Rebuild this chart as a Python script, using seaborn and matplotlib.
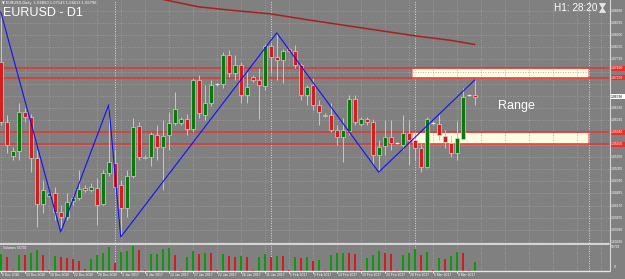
import numpy as np
import matplotlib
matplotlib.use('Agg')
import matplotlib.pyplot as plt
import matplotlib.transforms as mtransforms
from matplotlib.patches import Rectangle, Polygon
import seaborn as sns

# EURUSD daily bars, 8 Dec 2016 .. 13 Mar 2017 (broker keeps the short sunday bars)
opens = [1.0765, 1.0619, 1.0537, 1.0549, 1.0644, 1.0632, 1.0532, 1.0421, 1.0440, 1.0448,
         1.0402, 1.0390, 1.0428, 1.0436, 1.0460, 1.0455, 1.0460, 1.0421, 1.0496, 1.0520,
         1.0467, 1.0411, 1.0489, 1.0610, 1.0533, 1.0535, 1.0588, 1.0559, 1.0588, 1.0617,
         1.0617, 1.0627, 1.0603, 1.0721, 1.0636, 1.0665, 1.0711, 1.0711, 1.0782, 1.0738,
         1.0757, 1.0685, 1.0728, 1.0721, 1.0707, 1.0803, 1.0777, 1.0769, 1.0796, 1.0791,
         1.0757, 1.0685, 1.0709, 1.0661, 1.0634, 1.0636, 1.0600, 1.0583, 1.0598, 1.0675,
         1.0615, 1.0627, 1.0619, 1.0540, 1.0561, 1.0583, 1.0569, 1.0564, 1.0593, 1.0576,
         1.0557, 1.0511, 1.0617, 1.0615, 1.0586, 1.0569, 1.0544, 1.0578, 1.0685, 1.0685]
highs = [1.0886, 1.0636, 1.0559, 1.0665, 1.0653, 1.0639, 1.0552, 1.0479, 1.0450, 1.0462,
         1.0419, 1.0448, 1.0443, 1.0503, 1.0467, 1.0472, 1.0484, 1.0503, 1.0661, 1.0552,
         1.0479, 1.0503, 1.0629, 1.0619, 1.0540, 1.0595, 1.0612, 1.0624, 1.0644, 1.0692,
         1.0632, 1.0639, 1.0726, 1.0733, 1.0709, 1.0721, 1.0714, 1.0789, 1.0794, 1.0782,
         1.0765, 1.0740, 1.0733, 1.0750, 1.0808, 1.0808, 1.0835, 1.0796, 1.0799, 1.0806,
         1.0762, 1.0709, 1.0726, 1.0673, 1.0641, 1.0665, 1.0612, 1.0629, 1.0685, 1.0685,
         1.0632, 1.0632, 1.0627, 1.0576, 1.0624, 1.0624, 1.0571, 1.0636, 1.0624, 1.0595,
         1.0569, 1.0632, 1.0622, 1.0636, 1.0600, 1.0588, 1.0622, 1.0702, 1.0687, 1.0721]
lows = [1.0612, 1.0544, 1.0527, 1.0527, 1.0619, 1.0498, 1.0365, 1.0399, 1.0438, 1.0382,
        1.0353, 1.0382, 1.0419, 1.0431, 1.0450, 1.0450, 1.0370, 1.0419, 1.0489, 1.0450,
        1.0341, 1.0390, 1.0484, 1.0527, 1.0530, 1.0513, 1.0527, 1.0455, 1.0552, 1.0612,
        1.0612, 1.0588, 1.0595, 1.0629, 1.0624, 1.0658, 1.0707, 1.0702, 1.0728, 1.0721,
        1.0665, 1.0665, 1.0716, 1.0627, 1.0697, 1.0738, 1.0721, 1.0714, 1.0789, 1.0750,
        1.0673, 1.0661, 1.0648, 1.0612, 1.0632, 1.0595, 1.0564, 1.0523, 1.0588, 1.0612,
        1.0610, 1.0612, 1.0515, 1.0498, 1.0540, 1.0552, 1.0566, 1.0552, 1.0515, 1.0527,
        1.0498, 1.0508, 1.0612, 1.0576, 1.0557, 1.0535, 1.0527, 1.0576, 1.0682, 1.0661]
closes = [1.0619, 1.0564, 1.0549, 1.0644, 1.0632, 1.0532, 1.0421, 1.0455, 1.0448, 1.0402,
          1.0390, 1.0426, 1.0436, 1.0457, 1.0455, 1.0462, 1.0419, 1.0496, 1.0523, 1.0462,
          1.0411, 1.0489, 1.0607, 1.0535, 1.0535, 1.0590, 1.0559, 1.0586, 1.0617, 1.0651,
          1.0627, 1.0603, 1.0721, 1.0641, 1.0665, 1.0709, 1.0711, 1.0782, 1.0738, 1.0757,
          1.0685, 1.0704, 1.0721, 1.0709, 1.0803, 1.0777, 1.0769, 1.0791, 1.0791, 1.0757,
          1.0685, 1.0704, 1.0661, 1.0644, 1.0636, 1.0600, 1.0583, 1.0600, 1.0675, 1.0619,
          1.0627, 1.0619, 1.0540, 1.0559, 1.0583, 1.0569, 1.0569, 1.0593, 1.0576, 1.0557,
          1.0511, 1.0627, 1.0617, 1.0588, 1.0571, 1.0544, 1.0581, 1.0680, 1.0685, 1.0680]
volumes = [39200, 31500, 2000, 36900, 36000, 40900, 48600, 36900, 1500, 34500,
           32900, 29100, 28500, 23500, 3300, 27500, 36900, 42300, 56400, 17400,
           44600, 46300, 58000, 48600, 1800, 39200, 39800, 50300, 52600, 36900,
           1600, 32900, 47000, 39200, 42300, 40900, 1700, 39200, 34500, 31500,
           34500, 31500, 1500, 31500, 39200, 31500, 34500, 34000, 1600, 31500,
           29800, 31500, 23500, 25100, 1500, 36900, 40900, 41600, 40900, 39200,
           1500, 30500, 37600, 46300, 41600, 39200, 1500, 36900, 41600, 51000,
           37600, 44600, 1500, 29100, 27500, 33800, 43200, 41600, 1500, 21200]

# slow moving average (red line), sampled at these bars
ma_idx = [27, 33, 39, 45, 51, 57, 63, 69, 75, 79]
ma_val = [1.0916, 1.0898, 1.0889, 1.0881, 1.0867, 1.0854, 1.0841, 1.0828, 1.0817, 1.0807]

# zigzag turning bars
zz_idx = [0, 10, 18, 20, 46, 63, 79]
zz_top = [True, False, True, False, True, False, True]

# support / resistance band
range_levels = [1.0749, 1.0727, 1.0594, 1.0565]
range_labels = ['1.07490', '1.07270', '1.05940', '1.05650']
range_span = [68.5, 97.9]

price_ticks = [1.03285, 1.03580, 1.03875, 1.04170, 1.04465, 1.04760, 1.05055, 1.05350,
               1.05645, 1.05940, 1.06235, 1.06530, 1.06825, 1.07120, 1.07415, 1.07710,
               1.08005, 1.08300, 1.08595, 1.08890]
hidden_ticks = [1.05645, 1.05940, 1.06825, 1.07120, 1.07415]
last_price = '1.06796'

date_pos = [0, 4, 8, 12, 16, 20, 24, 28, 32, 36, 40, 44, 48, 52, 56, 60, 64, 68, 72, 76]
date_labels = ['8 Dec 2016', '13 Dec 2016', '18 Dec 2016', '22 Dec 2016', '28 Dec 2016',
               '3 Jan 2017', '8 Jan 2017', '12 Jan 2017', '17 Jan 2017', '22 Jan 2017',
               '26 Jan 2017', '31 Jan 2017', '5 Feb 2017', '9 Feb 2017', '14 Feb 2017',
               '19 Feb 2017', '23 Feb 2017', '28 Feb 2017', '5 Mar 2017', '9 Mar 2017']
grid_pos = list(range(0, 104, 4))
month_pos = [19, 45, 69, 98]

BG = '#808080'
W, H = 625, 279


def draw_candles(ax, o, h, l, c):
    idx = np.arange(len(o))
    up = c > o
    dn = c < o
    flat = c == o
    ax.vlines(idx, l, h, color='#c8c8c8', lw=0.7, zorder=3)
    ax.bar(idx[up], (c - o)[up], bottom=o[up], width=0.68, color='#0b780b',
           edgecolor='#d0d0d0', lw=0.5, zorder=4)
    ax.bar(idx[dn], (o - c)[dn], bottom=c[dn], width=0.68, color='#d21e1e',
           edgecolor='#d0d0d0', lw=0.5, zorder=4)
    ax.hlines(c[flat], idx[flat] - 0.35, idx[flat] + 0.35, color='#e8e8e8', lw=0.8, zorder=4)


def hourglass(fig, x, y):
    # small timer icon next to the countdown, in pixels
    pts_top = [(x, y), (x + 6, y), (x + 3, y + 4.5)]
    pts_bot = [(x + 3, y + 4.5), (x, y + 9), (x + 6, y + 9)]
    for pts in (pts_top, pts_bot):
        fig.add_artist(Polygon([(px / W, 1 - py / H) for px, py in pts], closed=True,
                               transform=fig.transFigure, facecolor='#e4e4e4',
                               edgecolor='#f4f4f4', lw=0.5))


def main():
    sns.set_style('dark')
    plt.rcParams['font.family'] = ['Liberation Sans', 'DejaVu Sans']

    o, h, l, c = map(np.array, (opens, highs, lows, closes))
    vol = np.array(volumes)

    fig = plt.figure(figsize=(W / 100, H / 100), dpi=100, facecolor=BG)
    ax = fig.add_axes([0, 1 - 243.5 / H, 609 / W, 243.5 / H], facecolor=BG)
    axv = fig.add_axes([0, 1 - 270.7 / H, 609 / W, 26.2 / H], facecolor=BG)

    xlim = (-0.12, 101.38)
    ax.set_xlim(*xlim)
    ax.set_ylim(1.03254, 1.09146)
    axv.set_xlim(*xlim)
    axv.set_ylim(0, 61600)

    for a in (ax, axv):
        a.set_xticks([])
        a.set_yticks([])
        a.grid(False)
        for s in a.spines.values():
            s.set_visible(False)

    # grid + month separators
    ax.hlines(price_ticks, xlim[0], xlim[1], color='#a4a4a4', lw=0.6, linestyles=(0, (1, 2)), zorder=1.5)
    for a in (ax, axv):
        a.vlines(grid_pos, *a.get_ylim(), color='#a4a4a4', lw=0.6, linestyles=(0, (1, 2)), zorder=1.5)
        a.vlines(month_pos, *a.get_ylim(), color='#dcdcdc', lw=0.7, linestyles=(0, (1, 1.5)), zorder=1.6)

    # range boxes
    lo_x, hi_x = range_span
    for top, bot in [(range_levels[0], range_levels[1]), (range_levels[2], range_levels[3])]:
        ax.add_patch(Rectangle((lo_x, bot), hi_x - lo_x, top - bot, facecolor='#fffde2',
                               edgecolor='#f39a9a', lw=0.8, zorder=1))
    ax.hlines(range_levels, xlim[0], xlim[1], color='#e5322d', lw=1.1, zorder=2)

    draw_candles(ax, o, h, l, c)

    # moving average and zigzag
    sns.lineplot(x=ma_idx, y=ma_val, color='#a8201c', lw=1.1, ax=ax, zorder=5)
    zz_val = [h[i] if t else l[i] for i, t in zip(zz_idx, zz_top)]
    sns.lineplot(x=zz_idx, y=zz_val, color='#1010ff', lw=0.8, ax=ax, zorder=6)
    ax.set_xlabel('')
    ax.set_ylabel('')

    # volumes, green when above the previous bar
    up = np.r_[True, np.diff(vol) > 0]
    vcol = ['#0a9a0a' if u else '#d41c1c' for u in up]
    axv.bar(np.arange(len(vol)), vol, width=0.36, color=vcol, edgecolor='none', zorder=3)

    # frame lines
    fig.add_artist(plt.Line2D([0, 609 / W], [1 - 244 / H] * 2, color='#e6e6e6', lw=1.2))
    fig.add_artist(plt.Line2D([0, 609 / W], [1 - 271 / H] * 2, color='#e6e6e6', lw=1.0))
    fig.add_artist(plt.Line2D([609.5 / W] * 2, [1 - 271 / H, 1], color='#d8d8d8', lw=0.8))

    # price scale on the right
    blend = mtransforms.blended_transform_factory(fig.transFigure, ax.transData)
    for p in price_ticks:
        if p in hidden_ticks:
            continue
        ax.text(611 / W, p, '%.5f' % p, transform=blend, fontsize=2.4, color='white',
                va='center', ha='left', clip_on=False)
    for p, s in zip(range_levels, range_labels):
        ax.add_patch(Rectangle((609.5 / W, p - 0.0006), 15.5 / W, 0.0012, transform=blend,
                               facecolor='#e5322d', edgecolor='none', clip_on=False, zorder=7))
        ax.text(611 / W, p, s, transform=blend, fontsize=2.4, color='white',
                va='center', ha='left', clip_on=False, zorder=8)
    ax.add_patch(Rectangle((609.5 / W, c[-1] - 0.0006), 15.5 / W, 0.0012, transform=blend,
                           facecolor='white', edgecolor='none', clip_on=False, zorder=7))
    ax.text(611 / W, c[-1], last_price, transform=blend, fontsize=2.4, color='black',
            va='center', ha='left', clip_on=False, zorder=8)

    # volume scale
    fig.text(611 / W, 1 - 247.5 / H, '55792', fontsize=2.4, color='white', va='center')
    fig.text(614 / W, 1 - 267 / H, '0', fontsize=2.4, color='white', va='center')

    # dates
    blend_x = mtransforms.blended_transform_factory(axv.transData, fig.transFigure)
    for i, s in zip(date_pos, date_labels):
        axv.text(i + 0.2, 1 - 275.5 / H, s, transform=blend_x, fontsize=2.4, color='white',
                 va='center', ha='left', clip_on=False)
        axv.add_artist(plt.Line2D([i, i], [1 - 271 / H, 1 - 273 / H], transform=blend_x,
                                  color='#e6e6e6', lw=0.6, clip_on=False))

    # labels
    fig.text(2 / W, 1 - 3 / H, '\u25bc EURUSD,Daily  1.06850 1.07143 1.06613 1.06796',
             fontsize=2.6, color='white', va='center', family=['DejaVu Sans'])
    fig.text(3 / W, 1 - 13.5 / H, 'EURUSD - D1', fontsize=9, color='white', va='center')
    fig.text(597 / W, 1 - 8 / H, 'H1: 28:20', fontsize=7.2, color='white', va='center', ha='right')
    hourglass(fig, 599.5, 3.5)
    fig.text(498 / W, 1 - 106.5 / H, 'Range', fontsize=9, color='white', va='center')
    fig.text(3 / W, 1 - 248 / H, 'Volumes 55792', fontsize=2.4, color='white', va='center')

    fig.savefig('out.png', dpi=100, facecolor=BG)


main()
